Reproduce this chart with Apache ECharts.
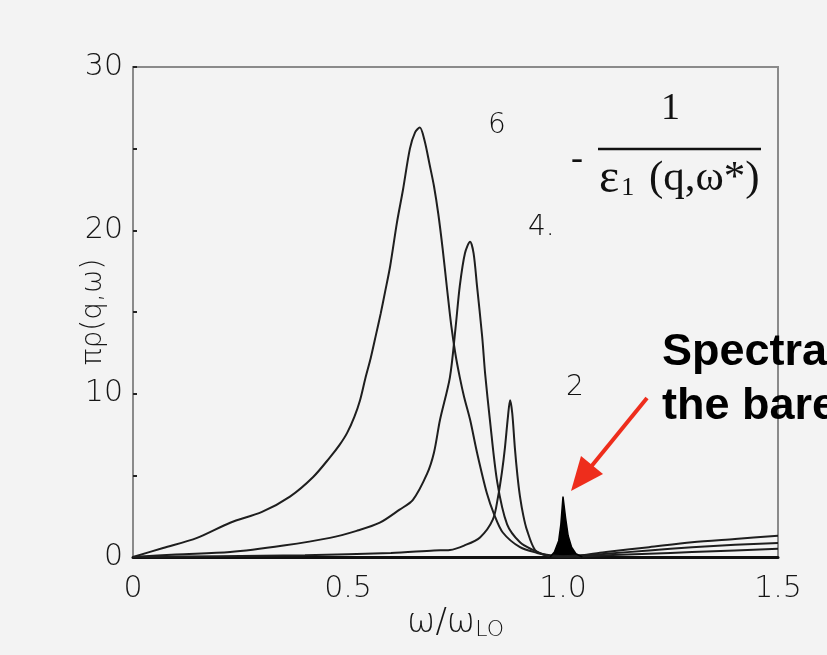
<!DOCTYPE html>
<html>
<head>
<meta charset="utf-8">
<script src="https://cdn.jsdelivr.net/npm/echarts@6/dist/echarts.min.js"></script>
<style>
  html, body { margin: 0; padding: 0; background: #f3f3f3; }
  #chart { width: 827px; height: 655px; }
</style>
</head>
<body>
<div id="chart"></div>
<script>
// Spectral density pi*rho(q, w) for q = 6, 4, 2 and the bare phonon peak at w/wLO = 1
const w6 = [0, 0.07, 0.149, 0.226, 0.30, 0.365, 0.419, 0.458, 0.48, 0.498, 0.515, 0.528, 0.54, 0.553, 0.565, 0.576, 0.586, 0.598, 0.614, 0.628, 0.644, 0.656, 0.667, 0.678, 0.69, 0.70, 0.71, 0.72, 0.73, 0.74, 0.75, 0.76, 0.77, 0.784, 0.80, 0.823, 0.84, 0.86, 0.90, 0.94, 0.97, 1.0, 1.05, 1.1, 1.2, 1.3, 1.4, 1.5];
const p6 = [0, 0.55, 1.17, 2.1, 2.76, 3.7, 4.9, 6.1, 6.85, 7.6, 8.6, 9.6, 10.9, 12.2, 13.6, 14.9, 16.2, 17.8, 20.5, 22.5, 25.0, 26.0, 26.3, 25.5, 24.0, 22.7, 21.0, 18.9, 16.5, 14.2, 12.4, 11.0, 9.8, 8.4, 6.4, 3.9, 2.6, 1.5, 0.6, 0.25, 0.1, 0.05, 0.12, 0.3, 0.6, 0.9, 1.1, 1.3];

const w4 = [0, 0.1, 0.226, 0.35, 0.458, 0.52, 0.574, 0.62, 0.651, 0.684, 0.70, 0.714, 0.737, 0.75, 0.76, 0.772, 0.784, 0.792, 0.80, 0.812, 0.819, 0.83, 0.847, 0.87, 0.90, 0.93, 0.96, 1.0, 1.1, 1.2, 1.3, 1.4, 1.5];
const p4 = [0, 0.15, 0.3, 0.7, 1.17, 1.6, 2.1, 2.9, 3.5, 5.1, 6.4, 8.4, 11.0, 14.0, 16.6, 18.6, 19.3, 18.6, 16.6, 13.5, 11.2, 8.4, 4.6, 2.0, 0.9, 0.43, 0.12, 0.03, 0.2, 0.4, 0.6, 0.75, 0.85];

const w2 = [0, 0.2, 0.4, 0.6, 0.7, 0.737, 0.77, 0.807, 0.837, 0.849, 0.858, 0.865, 0.872, 0.877, 0.882, 0.888, 0.894, 0.90, 0.908, 0.916, 0.935, 0.96, 0.98, 1.0, 1.1, 1.2, 1.3, 1.4, 1.5];
const p2 = [0, 0.05, 0.1, 0.25, 0.4, 0.43, 0.7, 1.2, 2.3, 3.7, 5.2, 6.7, 8.6, 9.6, 8.8, 6.7, 5.0, 3.7, 2.5, 1.66, 0.43, 0.1, 0.02, 0.0, 0.1, 0.2, 0.3, 0.4, 0.5];

const wBare = [0.97, 0.98, 0.99, 0.995, 1.0, 1.006, 1.012, 1.02, 1.03, 1.045];
const pBare = [0, 0.3, 1.0, 2.0, 3.7, 2.4, 1.3, 0.6, 0.2, 0];

const xTicks = [0, 0.5, 1.0, 1.5];
const yTicks = [0, 10, 20, 30];

const pairs = (xs, ys) => xs.map((x, i) => [x, ys[i]]);

const curveStyle = { color: '#1e1e1e', width: 2 };
const labelFont = { color: '#161616', fontSize: 30, fontFamily: 'DejaVu Sans', fontWeight: 200 };
const chart = echarts.init(document.getElementById('chart'));

chart.setOption({
  backgroundColor: '#f3f3f3',
  animation: false,
  grid: {
    left: 133, right: 49, top: 67, bottom: 98,
    show: true, borderColor: '#8a8a8a', borderWidth: 2, backgroundColor: 'transparent'
  },
  xAxis: {
    type: 'value', min: 0, max: 1.5, interval: 0.25,
    axisLine: { show: true, lineStyle: { color: '#111', width: 3 } },
    axisTick: { show: false },
    splitLine: { show: false },
    axisLabel: Object.assign({
      margin: 17,
      formatter: v => xTicks.includes(v) ? (v === 0 ? '0' : v.toFixed(1)) : ''
    }, labelFont),
    name: 'ω/ω{s|LO}',
    nameLocation: 'middle', nameGap: 48, nameMoveOverlap: false,
    nameTextStyle: {
      color: '#161616', fontSize: 34, fontFamily: 'DejaVu Sans', fontWeight: 200,
      rich: { s: { fontSize: 22, fontFamily: 'DejaVu Sans', fontWeight: 200, verticalAlign: 'bottom', padding: [14, 0, 0, 0], color: '#161616' } }
    }
  },
  yAxis: {
    type: 'value', min: 0, max: 30, interval: 5,
    axisLine: { show: true, lineStyle: { color: '#8a8a8a', width: 2 } },
    axisTick: { show: true, inside: true, length: 4, lineStyle: { color: '#222', width: 2 } },
    splitLine: { show: false },
    axisLabel: Object.assign({
      margin: 10,
      formatter: v => yTicks.includes(v) ? String(v) : ''
    }, labelFont),
    name: 'πρ(q,ω)',
    nameLocation: 'middle', nameGap: 25, nameRotate: 90, nameMoveOverlap: false,
    nameTextStyle: { color: '#161616', fontSize: 28, fontFamily: 'DejaVu Sans', fontWeight: 200 }
  },
  series: [
    { type: 'line', name: 'q6', data: pairs(w6, p6), smooth: 0.3, showSymbol: false, lineStyle: curveStyle },
    { type: 'line', name: 'q4', data: pairs(w4, p4), smooth: 0.3, showSymbol: false, lineStyle: curveStyle },
    { type: 'line', name: 'q2', data: pairs(w2, p2), smooth: 0.3, showSymbol: false, lineStyle: curveStyle },
    { type: 'line', name: 'bare', data: pairs(wBare, pBare), smooth: false, showSymbol: false,
      lineStyle: { color: '#000', width: 1.5 }, areaStyle: { color: '#000', opacity: 1 } }
  ],
  graphic: [
    { type: 'text', left: 488, top: 112, style: { text: '6', fontSize: 28, fill: '#111', fontFamily: 'DejaVu Sans', fontWeight: 200 } },
    { type: 'text', left: 528, top: 214, style: { text: '4.', fontSize: 28, fill: '#111', fontFamily: 'DejaVu Sans', fontWeight: 200 } },
    { type: 'text', left: 566, top: 374, style: { text: '2', fontSize: 28, fill: '#111', fontFamily: 'DejaVu Sans', fontWeight: 200 } },
    // -1 / eps1(q, w*)
    { type: 'text', left: 571, top: 142, style: { text: '-', fontSize: 36, fill: '#111', fontFamily: 'Liberation Serif' } },
    { type: 'text', left: 661, top: 90, style: { text: '1', fontSize: 38, fill: '#111', fontFamily: 'Liberation Serif' } },
    { type: 'line', shape: { x1: 598, y1: 149, x2: 761, y2: 149 }, style: { stroke: '#111', lineWidth: 2.5 } },
    { type: 'text', left: 599, top: 155, style: {
        text: '{e|ε}{s|1} (q,ω*)', fontSize: 43, fill: '#111', fontFamily: 'Liberation Serif',
        rich: {
          e: { fontSize: 48, fontFamily: 'Liberation Serif', fill: '#111' },
          s: { fontSize: 26, fontFamily: 'Liberation Serif', fill: '#111', padding: [18, 4, 0, 2] }
        }
      } },
    // annotation
    { type: 'text', left: 662, top: 330, style: { text: 'Spectral', fontSize: 45, fontWeight: 'bold', fill: '#000', fontFamily: 'Liberation Sans' } },
    { type: 'text', left: 662, top: 384, style: { text: 'the bare', fontSize: 45, fontWeight: 'bold', fill: '#000', fontFamily: 'Liberation Sans' } },
    { type: 'line', shape: { x1: 647, y1: 398, x2: 590, y2: 468 }, style: { stroke: '#ee2d1c', lineWidth: 4 } },
    { type: 'polygon', shape: { points: [[571, 491], [603, 474], [581, 456]] }, style: { fill: '#ee2d1c' } }
  ]
});
</script>
</body>
</html>
